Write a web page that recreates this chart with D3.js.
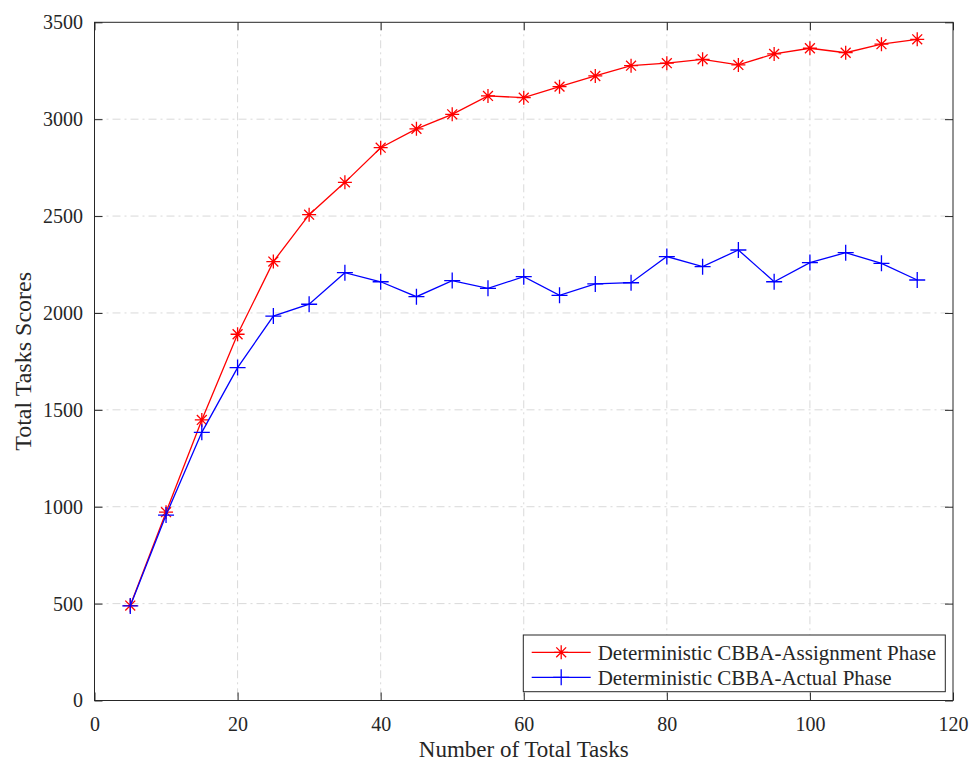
<!DOCTYPE html>
<html>
<head>
<meta charset="utf-8">
<script src="https://cdn.jsdelivr.net/npm/d3@7"></script>
<style>
  html, body { margin: 0; padding: 0; background: #fff; }
  svg { display: block; font-family: "Liberation Serif", "Times New Roman", serif; }
</style>
</head>
<body>
<svg id="chart" width="971" height="762"></svg>
<script>
// Number of tasks on the x axis
const taskCounts = [5, 10, 15, 20, 25, 30, 35, 40, 45, 50, 55, 60, 65, 70, 75, 80, 85, 90, 95, 100, 105, 110, 115];
// Total score after the assignment phase
const assignmentScores = [490, 972, 1448, 1890, 2265, 2507, 2674, 2853, 2950, 3025, 3120, 3111, 3168, 3223, 3276, 3289, 3309, 3280, 3337, 3366, 3343, 3387, 3412];
// Total score actually achieved
const actualScores = [488, 957, 1384, 1718, 1984, 2045, 2208, 2161, 2084, 2167, 2127, 2187, 2091, 2150, 2156, 2291, 2239, 2325, 2161, 2260, 2311, 2256, 2170];
const xTicks = [0, 20, 40, 60, 80, 100, 120];
const yTicks = [0, 500, 1000, 1500, 2000, 2500, 3000, 3500];
const seriesNames = ["Deterministic CBBA-Assignment Phase", "Deterministic CBBA-Actual Phase"];

const svg = d3.select("#chart");
const margin = { left: 94.5, right: 971 - 953, top: 22.3, bottom: 762 - 700.5 };
const W = 971 - margin.left - margin.right;
const H = 762 - margin.top - margin.bottom;

const x = d3.scaleLinear().domain([0, 120]).range([0, W]);
const y = d3.scaleLinear().domain([0, 3500]).range([H, 0]);

const g = svg.append("g").attr("transform", `translate(${margin.left},${margin.top})`);

// grid lines (dash-dot)
const gridStyle = sel => sel.attr("stroke", "#d9d9d9").attr("stroke-width", 1).attr("stroke-dasharray", "8,4,2,4");
g.append("g").selectAll("line").data(xTicks.filter(t => t > 0 && t < 120)).join("line")
  .attr("x1", d => x(d)).attr("x2", d => x(d)).attr("y1", 0).attr("y2", H).call(gridStyle);
g.append("g").selectAll("line").data(yTicks.filter(t => t > 0 && t < 3500)).join("line")
  .attr("x1", 0).attr("x2", W).attr("y1", d => y(d)).attr("y2", d => y(d)).call(gridStyle);

// axes with inward ticks on all four sides
const tickLen = 8;
const styleAxis = (sel) => {
  sel.select(".domain").remove();
  sel.selectAll(".tick line").attr("stroke", "#262626").attr("stroke-width", 1);
  sel.selectAll(".tick text").attr("fill", "#262626").attr("font-size", 20)
    .attr("font-family", "Liberation Serif, Times New Roman, serif");
};
g.append("g").attr("transform", `translate(0,${H})`)
  .call(d3.axisBottom(x).tickValues(xTicks).tickSizeInner(-tickLen).tickSizeOuter(0).tickPadding(16))
  .call(styleAxis);
g.append("g")
  .call(d3.axisTop(x).tickValues(xTicks).tickSizeInner(-tickLen).tickSizeOuter(0).tickFormat(""))
  .call(styleAxis);
g.append("g")
  .call(d3.axisLeft(y).tickValues(yTicks).tickSizeInner(-tickLen).tickSizeOuter(0).tickPadding(11.5).tickFormat(d3.format("d")))
  .call(styleAxis);
g.append("g").attr("transform", `translate(${W},0)`)
  .call(d3.axisRight(y).tickValues(yTicks).tickSizeInner(-tickLen).tickSizeOuter(0).tickFormat(""))
  .call(styleAxis);

// plot box
g.append("rect").attr("x", 0).attr("y", 0).attr("width", W).attr("height", H)
  .attr("fill", "none").attr("stroke", "#262626").attr("stroke-width", 1);

// marker shapes
function asteriskPath(r) {
  const d = r * Math.SQRT1_2;
  return `M${-r},0L${r},0M0,${-r}L0,${r}M${-d},${-d}L${d},${d}M${-d},${d}L${d},${-d}`;
}
function plusPath(r) {
  return `M${-r},0L${r},0M0,${-r}L0,${r}`;
}

const series = [
  { values: assignmentScores, color: "#ff0000", marker: asteriskPath(7) },
  { values: actualScores, color: "#0000ff", marker: plusPath(8) }
];

const line = d3.line().x(d => x(d[0])).y(d => y(d[1]));

series.forEach(s => {
  const pts = taskCounts.map((t, i) => [t, s.values[i]]);
  g.append("path").datum(pts).attr("d", line)
    .attr("fill", "none").attr("stroke", s.color).attr("stroke-width", 1.3);
  g.append("g").selectAll("path").data(pts).join("path")
    .attr("transform", d => `translate(${x(d[0])},${y(d[1])})`)
    .attr("d", s.marker).attr("fill", "none").attr("stroke", s.color).attr("stroke-width", 1.3);
});

// axis titles
svg.append("text").attr("x", margin.left + W / 2).attr("y", 757)
  .attr("text-anchor", "middle").attr("font-size", 23).attr("fill", "#262626")
  .text("Number of Total Tasks");
svg.append("text").attr("transform", `translate(31,${margin.top + H / 2}) rotate(-90)`)
  .attr("text-anchor", "middle").attr("font-size", 24).attr("fill", "#262626")
  .text("Total Tasks Scores");

// legend
const lg = svg.append("g");
lg.append("rect").attr("x", 523.3).attr("y", 635).attr("width", 945.3 - 523.3).attr("height", 691.7 - 635)
  .attr("fill", "#fff").attr("stroke", "#262626").attr("stroke-width", 1);
series.forEach((s, i) => {
  const cy = 652.3 + i * 25;
  lg.append("line").attr("x1", 531.7).attr("x2", 590.7).attr("y1", cy).attr("y2", cy)
    .attr("stroke", s.color).attr("stroke-width", 1.3);
  lg.append("path").attr("transform", `translate(561.2,${cy})`).attr("d", s.marker)
    .attr("fill", "none").attr("stroke", s.color).attr("stroke-width", 1.3);
  lg.append("text").attr("x", 597.7).attr("y", cy).attr("dy", "0.35em")
    .attr("font-size", 21).attr("fill", "#262626").text(seriesNames[i]);
});
</script>
</body>
</html>
